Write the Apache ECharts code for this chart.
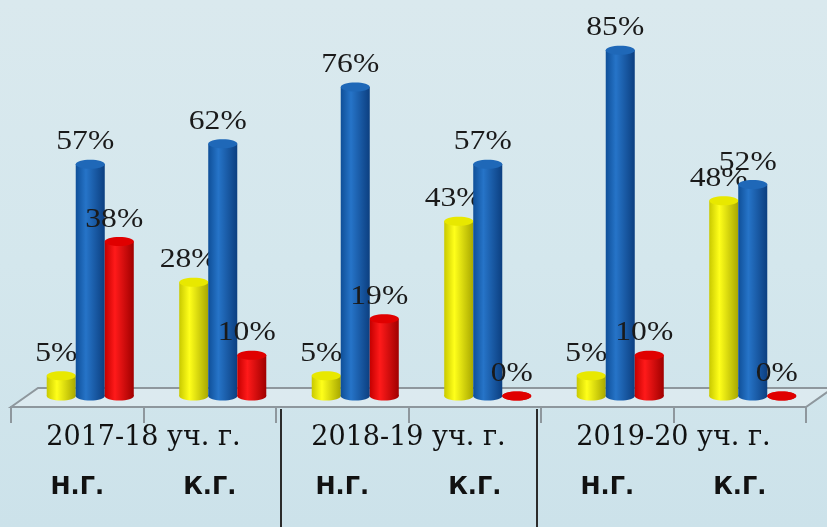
<!DOCTYPE html>
<html><head><meta charset="utf-8">
<script src="https://cdn.jsdelivr.net/npm/echarts@6/dist/echarts.min.js"></script>
<style>html,body{margin:0;padding:0;overflow:hidden;} #c{width:827px;height:527px;}</style>
</head><body><div id="c"></div>
<script>
const categories = ['Н.Г.', 'К.Г.', 'Н.Г.', 'К.Г.', 'Н.Г.', 'К.Г.'];
const years = ['2017-18 уч. г.', '2018-19 уч. г.', '2019-20 уч. г.'];
const yellowValues = [5, 28, 5, 43, 5, 48];
const blueValues = [57, 62, 76, 57, 85, 52];
const redValues = [38, 10, 19, 0, 10, 0];

const chart = echarts.init(document.getElementById('c'), null, {renderer: 'canvas'});

const palettes = [
  {edgeL: '#c9c900', mid: '#ffff1a', edgeR: '#a8a800', cap: '#e8e800'},
  {edgeL: '#0f4f98', mid: '#2674c8', edgeR: '#0c3f80', cap: '#1f68b8'},
  {edgeL: '#c40000', mid: '#ff1a1a', edgeR: '#a00000', cap: '#e00000'}
];

function makeRender(idx) {
  const p = palettes[idx];
  return function (params, api) {
    const cat = api.value(0), val = api.value(1);
    const top = api.coord([cat, val]);
    const base = api.coord([cat, 0]);
    const band = api.size([1, 0])[0];
    const w = band * 0.219;
    const cx = top[0] + (idx - 1) * w;
    const ry = 4.5;
    const grad = new echarts.graphic.LinearGradient(0, 0, 1, 0, [
      {offset: 0, color: p.edgeL}, {offset: 0.35, color: p.mid}, {offset: 1, color: p.edgeR}
    ]);
    const children = [
      {type: 'ellipse', shape: {cx: cx, cy: base[1], rx: w / 2, ry: ry}, style: {fill: grad}},
      {type: 'rect', shape: {x: cx - w / 2, y: top[1], width: w, height: Math.max(0, base[1] - top[1])}, style: {fill: grad}},
      {type: 'ellipse', shape: {cx: cx, cy: top[1], rx: w / 2, ry: ry}, style: {fill: p.cap}},
      {type: 'text', x: cx - 5, y: top[1] - 22, scaleX: 1.17, z2: 100,
        style: {text: val + '%', font: '27px "Liberation Serif"', fill: '#1a1a1a', align: 'center', verticalAlign: 'middle'}}
    ];
    return {type: 'group', children: children};
  };
}

function toData(arr) { return arr.map((v, i) => [i, v]); }

const option = {
  animation: false,
  backgroundColor: new echarts.graphic.LinearGradient(0, 0, 0, 1, [
    {offset: 0, color: '#dae9ee'}, {offset: 0.5, color: '#d4e7ed'}, {offset: 1, color: '#cce2ea'}
  ]),
  graphic: [
    {type: 'polygon', z: 0, shape: {points: [[11, 407], [38, 388], [833, 388], [806, 407]]},
      style: {fill: 'rgba(232,240,244,0.5)', stroke: '#8e979d', lineWidth: 2}},
    {type: 'line', z: 0, shape: {x1: 281, y1: 409, x2: 281, y2: 527}, style: {stroke: '#2b2b2b', lineWidth: 2}},
    {type: 'line', z: 0, shape: {x1: 537, y1: 409, x2: 537, y2: 527}, style: {stroke: '#2b2b2b', lineWidth: 2}}
  ],
  grid: [
    {left: 24, right: 8, top: 30, bottom: 131},
    {left: 11, right: 21, top: 30, bottom: 120}
  ],
  xAxis: [
    {gridIndex: 0, type: 'category', data: categories, show: false},
    {gridIndex: 1, type: 'category', data: categories, position: 'bottom',
      axisLine: {show: true, lineStyle: {color: '#8e979d', width: 2}},
      axisTick: {show: true, alignWithLabel: false, length: 16, lineStyle: {color: '#8e979d', width: 2}},
      axisLabel: {margin: 69, color: '#111', fontFamily: 'DejaVu Sans', fontWeight: 'bold', fontSize: 24}},
    {gridIndex: 1, type: 'category', data: years, position: 'bottom', offset: 0,
      axisLine: {show: false}, axisTick: {show: false},
      axisLabel: {margin: 17, color: '#111', fontFamily: 'DejaVu Serif', fontSize: 27}}
  ],
  yAxis: [
    {gridIndex: 0, type: 'value', min: 0, max: 90, show: false},
    {gridIndex: 1, type: 'value', min: 0, max: 90, show: false}
  ],
  series: [
    {type: 'custom', xAxisIndex: 0, yAxisIndex: 0, data: toData(yellowValues), renderItem: makeRender(0), z: 3},
    {type: 'custom', xAxisIndex: 0, yAxisIndex: 0, data: toData(blueValues), renderItem: makeRender(1), z: 4},
    {type: 'custom', xAxisIndex: 0, yAxisIndex: 0, data: toData(redValues), renderItem: makeRender(2), z: 5}
  ]
};
chart.setOption(option);
</script>
</body></html>
